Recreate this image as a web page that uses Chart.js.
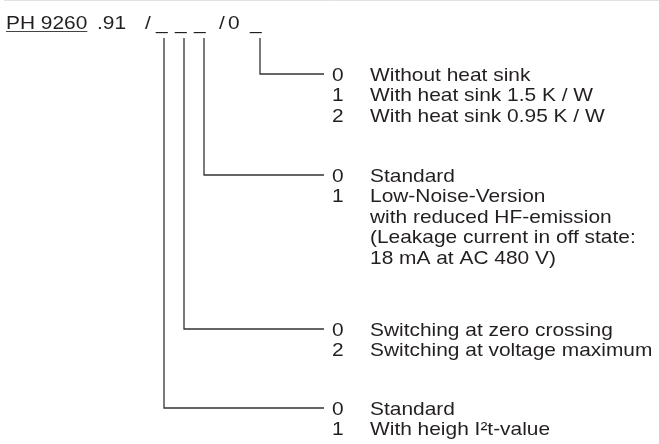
<!DOCTYPE html>
<html lang="en">
<head>
<meta charset="UTF-8">
<title>PH 9260.91 ordering code</title>
<script src="https://cdn.jsdelivr.net/npm/chart.js"></script>
<style>
    html, body { margin: 0; padding: 0; background: #fff; }
    #wrap { width: 659px; height: 444px; }
</style>
</head>
<body>
<div id="wrap"><canvas id="codeCanvas" width="659" height="444"></canvas></div>
<script>
    // header of the ordering code, with the x value where each piece starts
    const headerText = ['PH 9260', '.91', '/', '_', '_', '_', '/', '0', '_'];
    const headerX = [6, 97, 145, 156, 175, 194, 219, 228, 250];

    // one branch per code position: column of the position, row where it turns right
    const branchX = [164, 184, 204, 260];
    const branchY = [408, 329, 175, 74];
    const branchTop = 38;
    const branchEnd = 324;

    // option lists (top to bottom), first row of each group sits on the branch
    const heatSinkCodes = ['0', '1', '2'];
    const heatSinkText = ['Without heat sink', 'With heat sink 1.5 K / W', 'With heat sink 0.95 K / W'];
    const versionCodes = ['0', '1', '', '', ''];
    const versionText = ['Standard', 'Low-Noise-Version', 'with reduced HF-emission', '(Leakage current in off state:', '18 mA at AC 480 V)'];
    const switchCodes = ['0', '2'];
    const switchText = ['Switching at zero crossing', 'Switching at voltage maximum'];
    const i2tCodes = ['0', '1'];
    const i2tText = ['Standard', 'With heigh I\u00b2t-value'];

    const groups = [
        { y: branchY[3], codes: heatSinkCodes, text: heatSinkText },
        { y: branchY[2], codes: versionCodes, text: versionText },
        { y: branchY[1], codes: switchCodes, text: switchText },
        { y: branchY[0], codes: i2tCodes, text: i2tText }
    ];
    const rowStep = 20.6;
    const codeX = 332;
    const textX = 370;

    const FONT = '18.5px "Liberation Sans", Arial, Helvetica, sans-serif';
    const STRETCH = 1.13;
    const INK = '#231f20';

    function stretchedText(ctx, txt, px, py) {
        ctx.save();
        ctx.translate(px, py);
        ctx.scale(STRETCH, 1);
        ctx.fillText(txt, 0, 0);
        ctx.restore();
    }

    let textPlugin = {
        id: 'textPlugin',
        beforeDatasetsDraw: function(chart) {
            let ctx = chart.ctx;
            let xs = chart.scales.x;
            ctx.save();
            // thin grey rule along the top
            ctx.strokeStyle = '#e2e2e2';
            ctx.lineWidth = 1;
            ctx.beginPath();
            ctx.moveTo(xs.getPixelForValue(4), 0.5);
            ctx.lineTo(xs.getPixelForValue(659), 0.5);
            ctx.stroke();
            ctx.restore();
        },
        afterDatasetsDraw: function(chart) {
            let ctx = chart.ctx;
            let xs = chart.scales.x, ys = chart.scales.y;
            ctx.save();
            ctx.font = FONT;
            ctx.fillStyle = INK;
            ctx.textBaseline = 'alphabetic';
            ctx.textAlign = 'left';

            headerText.forEach((t, i) => {
                stretchedText(ctx, t, xs.getPixelForValue(headerX[i]), ys.getPixelForValue(29));
            });
            // underline under the type name
            let w = ctx.measureText(headerText[0]).width * STRETCH;
            ctx.strokeStyle = '#444';
            ctx.lineWidth = 1;
            ctx.beginPath();
            ctx.moveTo(xs.getPixelForValue(headerX[0]), ys.getPixelForValue(31.5));
            ctx.lineTo(xs.getPixelForValue(headerX[0]) + w, ys.getPixelForValue(31.5));
            ctx.stroke();

            groups.forEach(g => {
                g.text.forEach((t, r) => {
                    let py = ys.getPixelForValue(g.y + r * rowStep) + 6.5;
                    if (g.codes[r]) stretchedText(ctx, g.codes[r], xs.getPixelForValue(codeX), py);
                    stretchedText(ctx, t, xs.getPixelForValue(textX), py);
                });
            });
            ctx.restore();
        }
    };

    let datasets = branchX.map((bx, i) => ({
        label: 'pos' + (i + 1),
        data: [
            { x: bx, y: branchTop },
            { x: bx, y: branchY[i] },
            { x: branchEnd, y: branchY[i] }
        ],
        showLine: true,
        borderColor: '#333',
        borderWidth: 1.3,
        pointRadius: 0,
        tension: 0,
        fill: false
    }));

    let chart = new Chart(document.getElementById('codeCanvas').getContext('2d'), {
        type: 'scatter',
        data: { datasets: datasets },
        options: {
            responsive: false,
            animation: false,
            layout: { padding: 0 },
            plugins: { legend: { display: false }, tooltip: { enabled: false } },
            scales: {
                x: { type: 'linear', min: 0, max: 659, display: false },
                y: { type: 'linear', min: 0, max: 444, reverse: true, display: false }
            }
        },
        plugins: [textPlugin]
    });
</script>
</body>
</html>
